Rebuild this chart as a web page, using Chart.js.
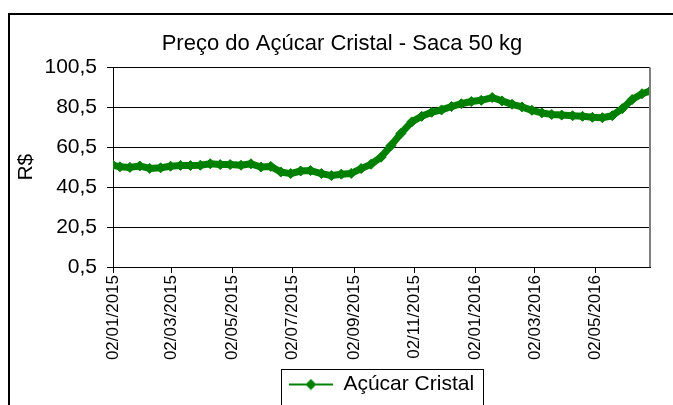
<!DOCTYPE html>
<html lang="pt-BR">
<head>
<meta charset="utf-8">
<title>Preço do Açúcar Cristal - Saca 50 kg</title>
<script src="https://cdn.jsdelivr.net/npm/chart.js@4.4.1/dist/chart.umd.min.js"></script>
<style>
  html, body { margin: 0; padding: 0; background: #fff; }
  #caixa { position: relative; width: 673px; height: 405px; }
</style>
</head>
<body>
<div id="caixa"><canvas id="grafico"></canvas></div>
<script>
// cotações (dd/mm/aaaa)
const datas = [
  '02/01/2015', '09/01/2015', '19/01/2015', '29/01/2015', '08/02/2015', '19/02/2015',
  '01/03/2015', '11/03/2015', '21/03/2015', '31/03/2015', '10/04/2015', '20/04/2015',
  '30/04/2015', '11/05/2015', '21/05/2015', '31/05/2015', '10/06/2015', '20/06/2015',
  '30/06/2015', '10/07/2015', '20/07/2015', '31/07/2015', '10/08/2015', '20/08/2015',
  '30/08/2015', '09/09/2015', '19/09/2015', '29/09/2015', '09/10/2015', '19/10/2015',
  '30/10/2015', '09/11/2015', '19/11/2015', '29/11/2015', '09/12/2015', '19/12/2015',
  '29/12/2015', '08/01/2016', '19/01/2016', '29/01/2016', '08/02/2016', '18/02/2016',
  '28/02/2016', '09/03/2016', '19/03/2016', '29/03/2016', '09/04/2016', '19/04/2016',
  '29/04/2016', '09/05/2016', '19/05/2016', '29/05/2016', '08/06/2016', '18/06/2016',
  '26/06/2016'
];
const precos = [
  51.5, 50.7, 50.4, 51.1, 49.9, 50.2,
  51.0, 51.4, 51.3, 51.5, 52.2, 51.8,
  51.8, 51.5, 52.2, 50.6, 50.9, 48.1,
  47.3, 48.6, 48.8, 47.3, 46.3, 47.0,
  47.4, 49.8, 52.0, 55.5, 61.3, 67.4,
  73.2, 76.0, 78.0, 79.2, 80.9, 82.3,
  83.4, 84.0, 85.4, 83.7, 82.0, 80.7,
  79.0, 77.7, 76.9, 76.6, 76.3, 76.0,
  75.5, 75.3, 76.3, 79.8, 84.4, 87.3,
  88.6
];
const rotulosX = [
  '02/01/2015', '02/03/2015', '02/05/2015', '02/07/2015', '02/09/2015',
  '02/11/2015', '02/01/2016', '02/03/2016', '02/05/2016'
];
const rotulosY = [0.5, 20.5, 40.5, 60.5, 80.5, 100.5];

const verde = '#008000';
const fonte = "'Liberation Sans', Arial, sans-serif";

// dias corridos desde a primeira data
function diaDe(txt) {
  const [d, m, a] = txt.split('/').map(Number);
  return Math.round((Date.UTC(a, m - 1, d) - Date.UTC(2015, 0, 2)) / 86400000);
}

const pontos = datas.map((d, i) => ({ x: diaDe(d), y: precos[i] }));

// linha + losango da legenda
function marcadorLegenda() {
  const c = document.createElement('canvas');
  c.width = 44;
  c.height = 12;
  const g = c.getContext('2d');
  g.strokeStyle = verde;
  g.lineWidth = 2;
  g.beginPath();
  g.moveTo(0, 6);
  g.lineTo(44, 6);
  g.stroke();
  g.fillStyle = verde;
  g.beginPath();
  g.moveTo(22, 0.5);
  g.lineTo(27.5, 6);
  g.lineTo(22, 11.5);
  g.lineTo(16.5, 6);
  g.closePath();
  g.fill();
  return c;
}

const moldura = {
  id: 'moldura',
  afterLayout(chart) {
    // título centrado na moldura, não só na área do gráfico
    chart.titleBlock.left = 8;
    chart.titleBlock.right = 676;
  },
  beforeDraw(chart) {
    const ctx = chart.ctx;
    ctx.save();
    ctx.fillStyle = '#fff';
    ctx.fillRect(0, 0, chart.width, chart.height);
    ctx.restore();
  },
  afterDraw(chart) {
    const ctx = chart.ctx;
    const a = chart.chartArea;
    ctx.save();
    ctx.strokeStyle = '#000';
    ctx.lineWidth = 2;
    ctx.beginPath();
    ctx.moveTo(9, chart.height + 5);
    ctx.lineTo(9, 14);
    ctx.lineTo(chart.width + 5, 14);
    ctx.stroke();

    ctx.strokeStyle = '#808080';
    ctx.lineWidth = 2;
    ctx.beginPath();
    ctx.moveTo(a.right, a.top);
    ctx.lineTo(a.right, a.bottom);
    ctx.stroke();

    const h = chart.legend.legendHitBoxes[0];
    if (h) {
      ctx.strokeStyle = '#000';
      ctx.lineWidth = 1;
      ctx.strokeRect(Math.round(h.left) - 7.5, Math.round(h.top) - 4.5, Math.round(h.width) + 17, 60);
    }
    ctx.restore();
  }
};

new Chart(document.getElementById('grafico'), {
  type: 'line',
  data: {
    datasets: [{
      label: 'Açúcar Cristal',
      data: pontos,
      borderColor: verde,
      backgroundColor: verde,
      borderWidth: 7,
      borderJoinStyle: 'round',
      borderCapStyle: 'round',
      pointStyle: 'rectRot',
      pointRadius: 5,
      pointBorderWidth: 1,
      pointBackgroundColor: verde,
      pointBorderColor: verde,
      tension: 0
    }]
  },
  options: {
    responsive: true,
    maintainAspectRatio: false,
    animation: false,
    layout: { padding: { left: 8, right: 23, top: 0, bottom: 0 } },
    plugins: {
      title: {
        display: true,
        text: 'Preço do Açúcar Cristal - Saca 50 kg',
        color: '#000',
        font: { family: fonte, size: 22, weight: 'normal' },
        padding: { top: 31, bottom: 10 }
      },
      legend: {
        display: true,
        position: 'bottom',
        fullSize: false,
        labels: {
          usePointStyle: true,
          pointStyle: marcadorLegenda(),
          pointStyleWidth: 44,
          color: '#000',
          font: { family: fonte, size: 21 },
          padding: 10
        }
      },
      tooltip: { enabled: false }
    },
    scales: {
      x: {
        type: 'linear',
        min: 0,
        max: diaDe(datas[datas.length - 1]),
        afterFit(scale) { scale.height = 97; },
        afterBuildTicks(scale) {
          scale.ticks = rotulosX.map(t => ({ value: diaDe(t) }));
        },
        ticks: {
          autoSkip: false,
          maxRotation: 90,
          minRotation: 90,
          padding: 2,
          color: '#000',
          font: { family: fonte, size: 17 },
          callback: (v, i) => rotulosX[i]
        },
        grid: { drawOnChartArea: false, drawTicks: true, tickLength: 6, color: '#000' },
        border: { color: '#000', width: 1 }
      },
      y: {
        min: 0.5,
        max: 100.5,
        afterFit(scale) { scale.width = 105; },
        afterBuildTicks(scale) {
          scale.ticks = rotulosY.map(v => ({ value: v }));
        },
        ticks: {
          padding: 10,
          color: '#000',
          font: { family: fonte, size: 21 },
          callback: v => v.toFixed(1).replace('.', ',')
        },
        grid: { color: '#000', lineWidth: 1, tickLength: 6 },
        border: { color: '#000', width: 1 },
        title: {
          display: true,
          text: 'R$',
          color: '#000',
          font: { family: fonte, size: 21 },
          padding: { top: 6, bottom: 0 }
        }
      }
    }
  },
  plugins: [moldura]
});
</script>
</body>
</html>
